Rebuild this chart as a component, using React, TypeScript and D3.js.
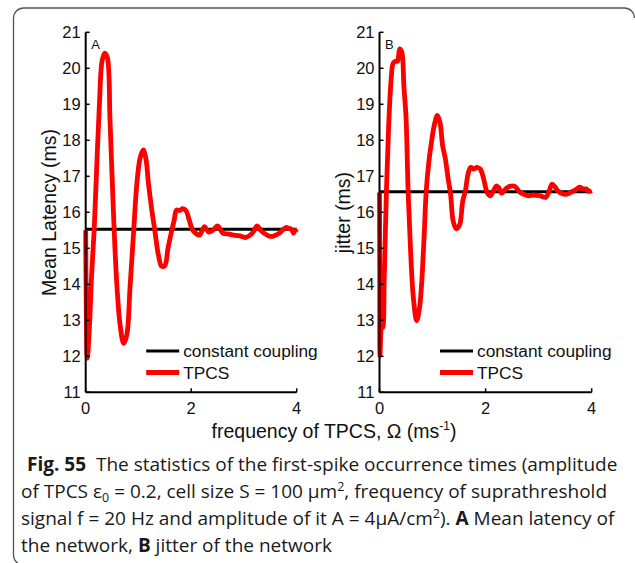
import React from "react";
import * as d3 from "d3";

// ---------- data ----------
const xTicks = [0, 2, 4];
const yTicks = [11, 12, 13, 14, 15, 16, 17, 18, 19, 20, 21];

const latencyX = [0, 0.01, 0.03, 0.07, 0.11, 0.16, 0.21, 0.26, 0.31, 0.36, 0.41, 0.46, 0.5, 0.54, 0.59, 0.65, 0.72, 0.78, 0.84, 0.91, 0.97, 1.03, 1.09, 1.14, 1.19, 1.25, 1.31, 1.38, 1.44, 1.5, 1.56, 1.62, 1.68, 1.72, 1.78, 1.84, 1.9, 1.96, 2.03, 2.1, 2.16, 2.25, 2.33, 2.41, 2.5, 2.6, 2.7, 2.78, 2.9, 3.03, 3.1, 3.16, 3.25, 3.32, 3.38, 3.46, 3.54, 3.62, 3.67, 3.74, 3.8, 3.86, 3.9, 3.94, 3.97, 4.0];
const latencyY = [15.5, 13.5, 11.95, 12.8, 14.2, 15.5, 17.3, 19.0, 20.2, 20.42, 20.3, 18.6, 17.0, 15.5, 14.0, 12.9, 12.36, 12.6, 13.9, 15.5, 16.8, 17.5, 17.73, 17.5, 16.8, 16.1, 15.5, 14.8, 14.5, 14.52, 15.0, 15.42, 15.8, 16.06, 16.05, 16.1, 16.05, 15.8, 15.5, 15.4, 15.37, 15.6, 15.45, 15.5, 15.62, 15.42, 15.4, 15.37, 15.35, 15.3, 15.35, 15.42, 15.62, 15.5, 15.42, 15.35, 15.33, 15.38, 15.42, 15.52, 15.58, 15.55, 15.53, 15.42, 15.5, 15.45];
const latencyConst = 15.53;

const jitterX = [0, 0.005, 0.01, 0.04, 0.06, 0.09, 0.13, 0.17, 0.22, 0.26, 0.31, 0.34, 0.38, 0.42, 0.46, 0.5, 0.54, 0.59, 0.64, 0.7, 0.75, 0.79, 0.84, 0.88, 0.93, 0.98, 1.03, 1.09, 1.14, 1.19, 1.24, 1.29, 1.34, 1.39, 1.45, 1.51, 1.57, 1.62, 1.67, 1.72, 1.78, 1.84, 1.9, 1.96, 2.03, 2.09, 2.15, 2.2, 2.25, 2.3, 2.38, 2.45, 2.55, 2.64, 2.72, 2.8, 2.9, 3.02, 3.1, 3.14, 3.2, 3.25, 3.3, 3.36, 3.44, 3.52, 3.6, 3.67, 3.72, 3.77, 3.84, 3.9, 3.95, 4.0];
const jitterY = [16.55, 14.0, 12.02, 12.85, 12.8, 14.2, 16.57, 18.3, 19.7, 20.15, 20.2, 20.2, 20.54, 20.45, 19.5, 18.64, 16.57, 14.8, 13.6, 12.99, 13.3, 13.92, 15.3, 16.57, 17.4, 17.95, 18.4, 18.69, 18.5, 17.85, 17.5, 16.97, 16.5, 15.75, 15.54, 15.65, 16.32, 16.6, 17.07, 17.25, 17.2, 17.25, 17.2, 16.95, 16.55, 16.46, 16.6, 16.73, 16.68, 16.53, 16.65, 16.72, 16.72, 16.57, 16.5, 16.46, 16.48, 16.46, 16.42, 16.42, 16.6, 16.78, 16.72, 16.6, 16.52, 16.5, 16.55, 16.6, 16.65, 16.7, 16.65, 16.65, 16.58, 16.6];
const jitterConst = 16.57;

const legendLabels = ["constant coupling", "TPCS"];

const captionLines = [
  [{ b: true, t: "Fig. 55" }, { t: "  The statistics of the first-spike occurrence times (amplitude" }],
  [{ t: "of TPCS ε" }, { sub: true, t: "0" }, { t: " = 0.2, cell size S = 100 μm" }, { sup: true, t: "2" }, { t: ", frequency of suprathreshold" }],
  [{ t: "signal f = 20 Hz and amplitude of it A = 4μA/cm" }, { sup: true, t: "2" }, { t: "). " }, { b: true, t: "A" }, { t: " Mean latency of" }],
  [{ t: "the network, " }, { b: true, t: "B" }, { t: " jitter of the network" }],
];

const AX_FONT = "'Liberation Sans', Arial, sans-serif";
const CAP_FONT = "'Open Sans', 'Noto Sans', sans-serif";

type PanelProps = {
  x0: number;
  x1: number;
  xs: number[];
  ys: number[];
  constVal: number;
  letter: string;
  yLabel: string;
};

function Panel({ x0, x1, xs, ys, constVal, letter, yLabel }: PanelProps) {
  const x = d3.scaleLinear().domain([0, 4]).range([x0, x1]);
  const y = d3.scaleLinear().domain([11, 21]).range([392.3, 32.3]);
  const pts: [number, number][] = xs.map((v, i) => [v, ys[i]]);
  const line = d3
    .line<[number, number]>()
    .x((d) => x(d[0]))
    .y((d) => y(d[1]))
    .curve(d3.curveCatmullRom.alpha(0.5));
  const constLine = d3.line<[number, number]>().x((d) => x(d[0])).y((d) => y(d[1]));
  const lgX = x0 + 60.5;
  return (
    <g>
      <path d={constLine([[0, constVal], [4, constVal]]) || ""} stroke="#000" strokeWidth={3} fill="none" />
      <path d={line(pts) || ""} stroke="#ff0000" strokeWidth={4.8} fill="none" strokeLinejoin="round" />
      <line x1={x(0)} x2={x(0)} y1={y(11)} y2={y(21)} stroke="#000" strokeWidth={2} />
      <line x1={x(0)} x2={x(4)} y1={y(11)} y2={y(11)} stroke="#000" strokeWidth={2} />
      {yTicks.map((t) => (
        <g key={"y" + t}>
          <line x1={x(0)} x2={x(0) + 4} y1={y(t)} y2={y(t)} stroke="#000" strokeWidth={1.5} />
          <text x={x(0) - 5} y={y(t) + 6} textAnchor="end" fontFamily={AX_FONT} fontSize={16.5} fill="#111">
            {t}
          </text>
        </g>
      ))}
      {xTicks.map((t) => (
        <g key={"x" + t}>
          <line x1={x(t)} x2={x(t)} y1={y(11)} y2={y(11) - 4} stroke="#000" strokeWidth={1.5} />
          <text x={x(t)} y={413.5} textAnchor="middle" fontFamily={AX_FONT} fontSize={16.5} fill="#111">
            {t}
          </text>
        </g>
      ))}
      <text x={x(0) + 5.5} y={48.5} fontFamily={AX_FONT} fontSize={13} fill="#111">
        {letter}
      </text>
      <text
        transform={`translate(${x(0) - 30},212.5) rotate(-90)`}
        textAnchor="middle"
        fontFamily={AX_FONT}
        fontSize={19.5}
        fill="#111"
      >
        {yLabel}
      </text>
      <line x1={lgX} x2={lgX + 33} y1={351} y2={351} stroke="#000" strokeWidth={3} />
      <line x1={lgX} x2={lgX + 33} y1={372.5} y2={372.5} stroke="#ff0000" strokeWidth={4.8} />
      <text x={lgX + 37} y={357} fontFamily={AX_FONT} fontSize={17.3} fill="#111">
        {legendLabels[0]}
      </text>
      <text x={lgX + 37} y={378.5} fontFamily={AX_FONT} fontSize={17.3} fill="#111">
        {legendLabels[1]}
      </text>
    </g>
  );
}

export default function App() {
  const capBase = [471, 498, 525, 552];
  return (
    <svg width={635} height={563} style={{ position: "absolute", left: 0, top: 0, background: "#fff" }}>
      <rect x={0} y={0} width={635} height={563} fill="#fff" />
      <path
        d="M 634.5 18 A 10 10 0 0 0 624.5 8 L 23.5 8 A 10 10 0 0 0 13.5 18 L 13.5 555 A 10 10 0 0 0 23.5 565"
        fill="none"
        stroke="#555"
        strokeWidth={1.3}
      />
      <Panel x0={85.7} x1={296.7} xs={latencyX} ys={latencyY} constVal={latencyConst} letter="A" yLabel="Mean Latency (ms)" />
      <Panel x0={379.5} x1={591.7} xs={jitterX} ys={jitterY} constVal={jitterConst} letter="B" yLabel="jitter (ms)" />
      <text x={334} y={438} textAnchor="middle" fontFamily={AX_FONT} fontSize={19.5} fill="#111">
        frequency of TPCS, Ω (ms
        <tspan fontSize={12} dy={-8}>-1</tspan>
        <tspan dy={8}>)</tspan>
      </text>
      {captionLines.map((ln, i) => (
        <text key={i} x={i === 0 ? 27 : 21} y={capBase[i]} fontFamily={CAP_FONT} fontSize={19} fill="#1a1a1a" style={{ whiteSpace: "pre" }}>
          {ln.map((s: any, j: number) => (
            <tspan
              key={j}
              fontWeight={s.b ? 700 : 400}
              fontSize={s.sub || s.sup ? 12.5 : undefined}
              dy={s.sub ? 4 : s.sup ? -7 : j > 0 && (ln[j - 1] as any).sub ? -4 : j > 0 && (ln[j - 1] as any).sup ? 7 : 0}
            >
              {s.t}
            </tspan>
          ))}
        </text>
      ))}
    </svg>
  );
}
